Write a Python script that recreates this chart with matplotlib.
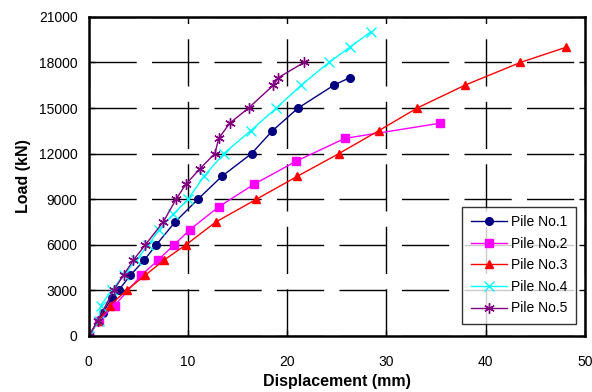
import matplotlib
matplotlib.use("Agg")
import matplotlib.pyplot as plt

plt.rcParams['font.family'] = ['Liberation Sans', 'DejaVu Sans']

# ---------------- data ----------------
pile1_x = [0, 1.4, 2.3, 3.0, 4.2, 5.6, 6.8, 8.7, 11.0, 13.4, 16.4, 18.5, 21.1, 24.7, 26.3]
pile1_y = [0, 1500, 2500, 3000, 4000, 5000, 6000, 7500, 9000, 10500, 12000, 13500, 15000, 16500, 17000]

pile2_x = [0, 1.0, 2.6, 5.3, 7.0, 8.6, 10.2, 13.1, 16.7, 20.9, 25.8, 35.4]
pile2_y = [0, 1000, 2000, 4000, 5000, 6000, 7000, 8500, 10000, 11500, 13000, 14000]

pile3_x = [0, 1.0, 2.1, 3.8, 5.7, 7.6, 9.8, 12.8, 16.9, 21.0, 25.2, 29.2, 33.1, 37.9, 43.5, 48.1]
pile3_y = [0, 1000, 2000, 3000, 4000, 5000, 6000, 7500, 9000, 10500, 12000, 13500, 15000, 16500, 18000, 19000]

pile4_x = [0, 1.0, 1.2, 2.3, 3.5, 4.8, 6.0, 7.1, 8.5, 10.0, 11.6, 13.6, 16.3, 18.9, 21.4, 24.2, 26.3, 28.4]
pile4_y = [0, 1000, 2000, 3000, 4000, 5000, 6000, 7000, 8000, 9000, 10500, 12000, 13500, 15000, 16500, 18000, 19000, 20000]

pile5_x = [0, 0.9, 2.5, 3.5, 4.5, 5.7, 7.5, 8.8, 9.8, 11.2, 12.7, 13.1, 14.2, 16.1, 18.6, 19.1, 21.7]
pile5_y = [0, 1000, 3000, 4000, 5000, 6000, 7500, 9000, 10000, 11000, 12000, 13000, 14000, 15000, 16500, 17000, 18000]

x_ticks = [0, 10, 20, 30, 40, 50]
y_ticks = [0, 3000, 6000, 9000, 12000, 15000, 18000, 21000]
# ----------------------------------------------------------

fig = plt.figure(figsize=(5.92, 3.92), dpi=100)
ax = fig.add_axes([0.150, 0.143, 0.838, 0.814])

ax.plot(pile1_x, pile1_y, color='#000080', marker='o', markersize=5.5, linewidth=1, label='Pile No.1')
ax.plot(pile2_x, pile2_y, color='#FF00FF', marker='s', markersize=5.5, linewidth=1, label='Pile No.2')
ax.plot(pile3_x, pile3_y, color='#FF0000', marker='^', markersize=6, linewidth=1, label='Pile No.3')
ax.plot(pile4_x, pile4_y, color='#00FFFF', marker='x', markersize=6.5, markeredgewidth=1, linewidth=1, label='Pile No.4')
ax.plot(pile5_x, pile5_y, color='#800080', marker=(6, 2, 0), markersize=7.5, markeredgewidth=1, linewidth=1, label='Pile No.5')

ax.set_xlim(0, 50)
ax.set_ylim(0, 21000)
ax.set_xticks(x_ticks)
ax.set_yticks(y_ticks)
ax.grid(True, color='black', linewidth=1, linestyle=(0, (34, 11)))
ax.set_axisbelow(True)

for s in ax.spines.values():
    s.set_linewidth(1.8)
ax.tick_params(direction='in', length=4, width=1, labelsize=10, right=True)
ax.tick_params(axis='x', pad=14)
ax.tick_params(axis='y', pad=8)

ax.set_xlabel('Displacement (mm)', fontsize=11.5, fontweight='bold', labelpad=3)
ax.set_ylabel('Load (kN)', fontsize=11.5, fontweight='bold', labelpad=6)

leg = ax.legend(loc='lower right', bbox_to_anchor=(0.99, 0.025), fontsize=10, frameon=True,
                fancybox=False, edgecolor='black', borderpad=0.6, labelspacing=0.55,
                handlelength=2.6, handletextpad=0.3, borderaxespad=0.3)
leg.get_frame().set_linewidth(1)

fig.savefig('out.png', dpi=100)
